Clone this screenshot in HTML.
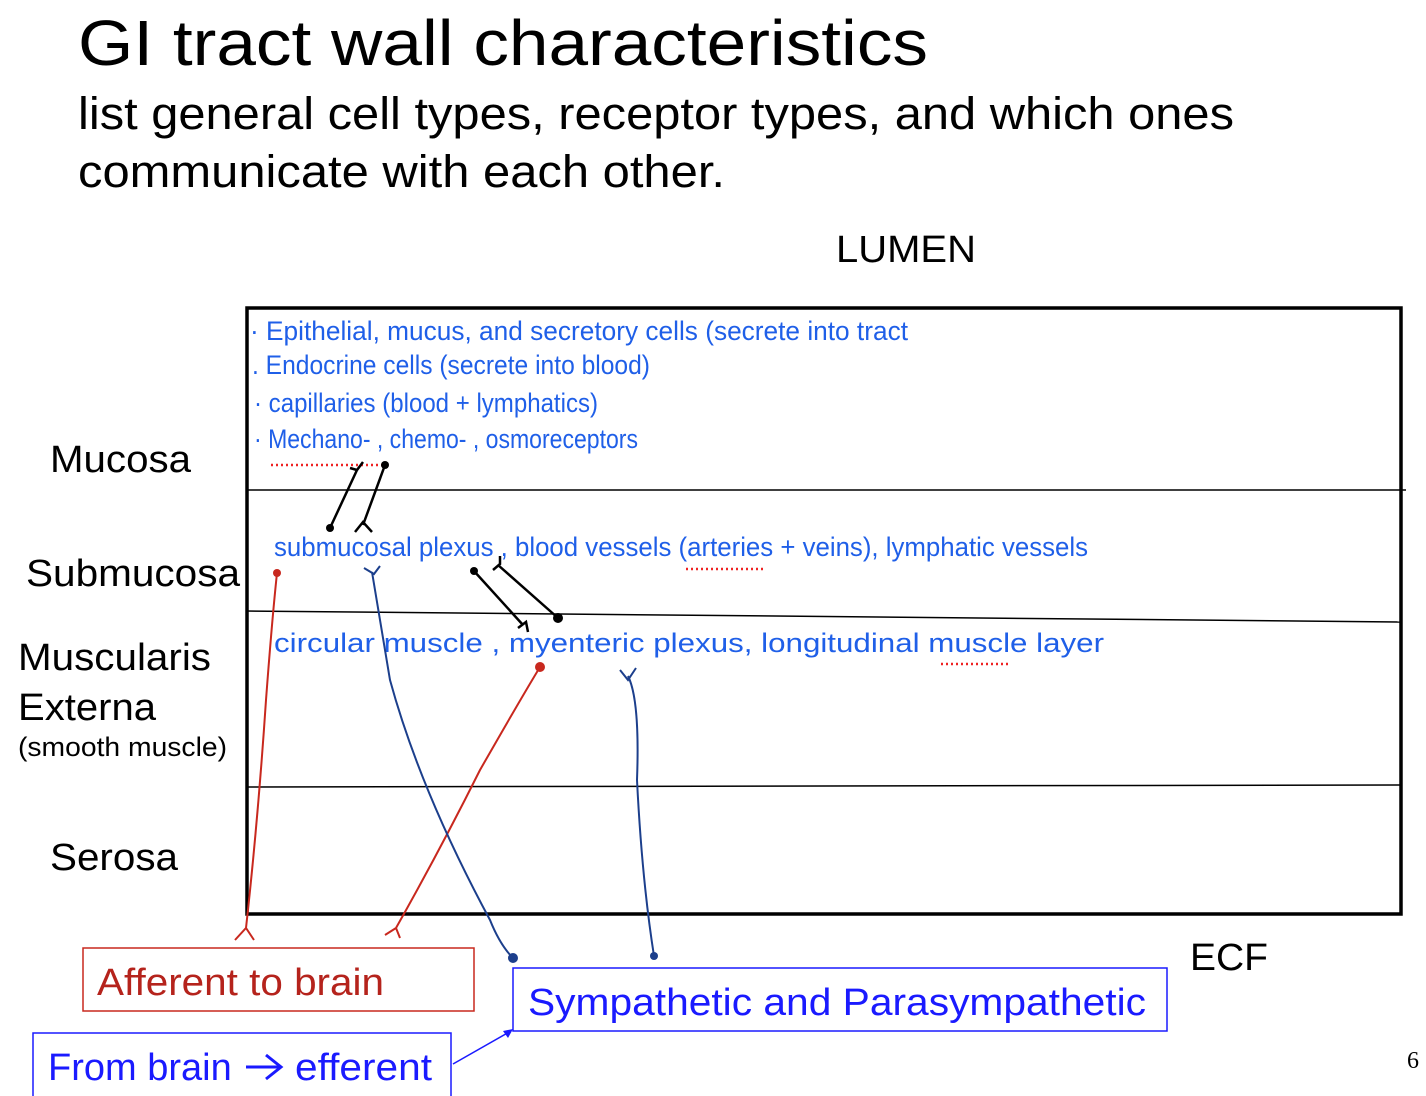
<!DOCTYPE html>
<html><head><meta charset="utf-8"><style>
body{margin:0;background:#fff;width:1426px;height:1096px;overflow:hidden}
svg{display:block}
.s{font-family:"Liberation Sans",sans-serif}
.h{font-family:"Liberation Sans Narrow","Liberation Sans",sans-serif;fill:#1f5fe8;font-size:27px}
</style></head><body>
<svg width="1426" height="1096" xmlns="http://www.w3.org/2000/svg">
<text class="s" x="78" y="65" font-size="64" textLength="850" lengthAdjust="spacingAndGlyphs">GI tract wall characteristics</text>
<text class="s" x="78" y="129" font-size="45" textLength="1156" lengthAdjust="spacingAndGlyphs">list general cell types, receptor types, and which ones</text>
<text class="s" x="78" y="187" font-size="45" textLength="647" lengthAdjust="spacingAndGlyphs">communicate with each other.</text>
<text class="s" x="836" y="262" font-size="38" textLength="140" lengthAdjust="spacingAndGlyphs">LUMEN</text>
<rect x="247" y="308" width="1154" height="606" fill="none" stroke="#000" stroke-width="3.5"/>
<line x1="246" y1="490" x2="1406" y2="490" stroke="#000" stroke-width="1.5"/>
<line x1="246" y1="611" x2="1401" y2="622" stroke="#000" stroke-width="1.5"/>
<line x1="246" y1="787" x2="1401" y2="785" stroke="#000" stroke-width="1.5"/>
<text class="s" x="50" y="472" font-size="38" textLength="141" lengthAdjust="spacingAndGlyphs">Mucosa</text>
<text class="s" x="26" y="586" font-size="38" textLength="214" lengthAdjust="spacingAndGlyphs">Submucosa</text>
<text class="s" x="18" y="670" font-size="38" textLength="193" lengthAdjust="spacingAndGlyphs">Muscularis</text>
<text class="s" x="18" y="720" font-size="38" textLength="138" lengthAdjust="spacingAndGlyphs">Externa</text>
<text class="s" x="18" y="756" font-size="27" textLength="209" lengthAdjust="spacingAndGlyphs">(smooth muscle)</text>
<text class="s" x="50" y="870" font-size="38" textLength="128" lengthAdjust="spacingAndGlyphs">Serosa</text>
<text class="s" x="1190" y="970" font-size="38" textLength="78" lengthAdjust="spacingAndGlyphs">ECF</text>
<text x="1407" y="1068" font-size="24" font-family="Liberation Serif,serif">6</text>
<g class="h">
<text x="250" y="340" textLength="658" lengthAdjust="spacingAndGlyphs">· Epithelial, mucus, and  secretory  cells  (secrete into  tract</text>
<text x="252" y="374" textLength="398" lengthAdjust="spacingAndGlyphs">. Endocrine  cells  (secrete into blood)</text>
<text x="254" y="412" textLength="344" lengthAdjust="spacingAndGlyphs">· capillaries (blood + lymphatics)</text>
<text x="254" y="448" textLength="384" lengthAdjust="spacingAndGlyphs">· Mechano- , chemo- , osmoreceptors</text>
<text x="274" y="556" textLength="814" lengthAdjust="spacingAndGlyphs">submucosal  plexus , blood  vessels  (arteries + veins), lymphatic  vessels</text>
<text x="274" y="652" textLength="830" lengthAdjust="spacingAndGlyphs">circular   muscle   ,  myenteric  plexus,  longitudinal  muscle   layer</text>
</g>
<g stroke="#e22" stroke-width="2.5" stroke-dasharray="2 3">
<line x1="271" y1="465" x2="383" y2="465"/><line x1="686" y1="569" x2="763" y2="569"/><line x1="941" y1="664" x2="1011" y2="664"/>
</g>
<g fill="none" stroke="#000" stroke-width="2.5">
<path d="M330 528 L357 470 M350 468 L357 470 L363 462"/>
<path d="M385 465 L363 525 M355 532 L363 522 L372 532"/>
<path d="M474 571 L523 625 M518 628 L526 622 L528 632"/>
<path d="M498 565 L558 618 M493 570 L500 564 L500 556"/>
</g>
<g fill="#000"><circle cx="330" cy="528" r="4"/><circle cx="385" cy="465" r="4"/><circle cx="474" cy="571" r="4"/><circle cx="558" cy="618" r="5"/></g>
<g fill="none" stroke="#c8281e" stroke-width="2">
<path d="M277 573 Q272 620 266 700 Q258 820 246 928 M235 940 L246 928 L254 940"/>
<path d="M540 667 Q520 700 480 770 Q440 850 396 928 M385 935 L396 928 L400 938"/>
</g>
<g fill="#c8281e"><circle cx="277" cy="573" r="4"/><circle cx="540" cy="667" r="5"/></g>
<g fill="none" stroke="#1c3f8c" stroke-width="2">
<path d="M372 572 Q380 620 390 680 Q420 790 490 920 Q500 945 513 958 M364 568 L374 574 L380 566"/>
<path d="M628 676 Q640 700 637 780 Q642 880 654 956 M620 670 L628 680 L636 668"/>
</g>
<g fill="#1c3f8c"><circle cx="513" cy="958" r="5"/><circle cx="654" cy="956" r="4"/></g>
<rect x="83" y="948" width="391" height="63" fill="none" stroke="#c8281e" stroke-width="1.5"/>
<text class="s" x="97" y="995" font-size="38" fill="#b5231c" textLength="287" lengthAdjust="spacingAndGlyphs">Afferent to brain</text>
<rect x="513" y="968" width="654" height="63" fill="none" stroke="#1a1aff" stroke-width="1.5"/>
<text class="s" x="528" y="1015" font-size="38" fill="#1a1aff" textLength="618" lengthAdjust="spacingAndGlyphs">Sympathetic and Parasympathetic</text>
<rect x="33" y="1033" width="418" height="70" fill="none" stroke="#1a1aff" stroke-width="1.5"/>
<text class="s" x="48" y="1080" font-size="38" fill="#1a1aff">From brain</text>
<path d="M246 1067 L280 1067 M266 1055 L281 1067 L266 1079" fill="none" stroke="#1a1aff" stroke-width="3"/>
<text class="s" x="295" y="1080" font-size="38" fill="#1a1aff" textLength="137" lengthAdjust="spacingAndGlyphs">efferent</text>
<line x1="453" y1="1064" x2="511" y2="1031" stroke="#1a1aff" stroke-width="1.5"/>
<path d="M513 1029 L503 1031 L508 1038 Z" fill="#1a1aff"/>
</svg>
</body></html>
